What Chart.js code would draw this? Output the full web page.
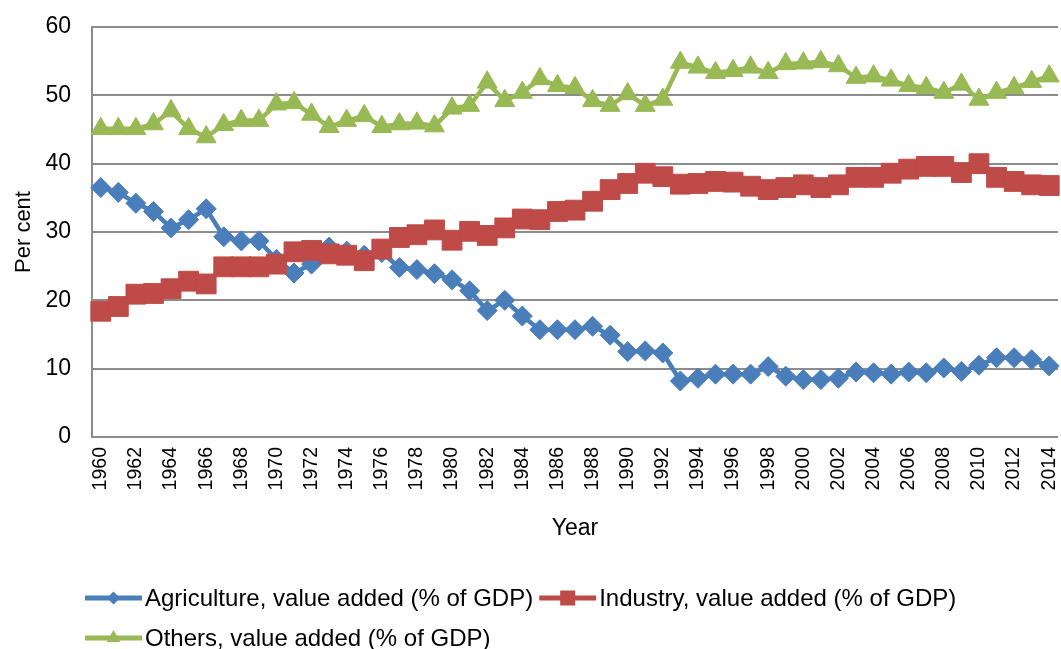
<!DOCTYPE html>
<html>
<head>
<meta charset="utf-8">
<script src="https://cdn.jsdelivr.net/npm/chart.js@4.4.1/dist/chart.umd.min.js"></script>
<style>
  html, body { margin: 0; padding: 0; background: #fff; }
  #wrap { width: 1061px; height: 649px; }
</style>
</head>
<body>
<div id="wrap"><canvas id="chart" width="1061" height="649"></canvas></div>
<script>
const years = [
  "1960", "1961", "1962", "1963", "1964", "1965", "1966", "1967", "1968", "1969",
  "1970", "1971", "1972", "1973", "1974", "1975", "1976", "1977", "1978", "1979",
  "1980", "1981", "1982", "1983", "1984", "1985", "1986", "1987", "1988", "1989",
  "1990", "1991", "1992", "1993", "1994", "1995", "1996", "1997", "1998", "1999",
  "2000", "2001", "2002", "2003", "2004", "2005", "2006", "2007", "2008", "2009",
  "2010", "2011", "2012", "2013", "2014"
];
const agriculture = [
  36.5, 35.8, 34.2, 33.0, 30.6, 31.8, 33.4, 29.3, 28.7, 28.7,
  26.0, 24.0, 25.3, 27.8, 27.2, 26.6, 27.0, 24.8, 24.5, 23.9,
  23.0, 21.4, 18.5, 20.0, 17.7, 15.7, 15.7, 15.7, 16.2, 14.9,
  12.5, 12.6, 12.3, 8.2, 8.6, 9.2, 9.2, 9.2, 10.3, 8.9,
  8.4, 8.4, 8.6, 9.5, 9.4, 9.2, 9.5, 9.4, 10.1, 9.6,
  10.5, 11.6, 11.6, 11.3, 10.4
];
const industry = [
  18.4, 19.1, 20.9, 21.0, 21.7, 22.8, 22.4, 24.9, 24.9, 24.9,
  25.3, 27.1, 27.3, 26.8, 26.6, 25.8, 27.5, 29.2, 29.6, 30.3,
  28.8, 30.1, 29.5, 30.6, 31.9, 31.8, 33.0, 33.2, 34.5, 36.2,
  37.1, 38.6, 38.1, 37.0, 37.1, 37.4, 37.3, 36.7, 36.2, 36.5,
  36.9, 36.5, 36.9, 38.0, 38.0, 38.6, 39.2, 39.6, 39.6, 38.7,
  40.0, 38.0, 37.4, 36.9, 36.8
];
const others = [
  45.1, 45.1, 45.1, 45.8, 47.7, 45.1, 43.9, 45.7, 46.3, 46.3,
  48.7, 48.9, 47.2, 45.4, 46.3, 47.0, 45.4, 45.8, 45.9, 45.5,
  48.1, 48.5, 51.9, 49.2, 50.4, 52.4, 51.4, 51.1, 49.2, 48.5,
  50.2, 48.5, 49.4, 54.8, 54.1, 53.3, 53.6, 54.1, 53.3, 54.6,
  54.7, 54.9, 54.3, 52.6, 52.8, 52.2, 51.4, 51.1, 50.4, 51.6,
  49.4, 50.4, 51.1, 52.0, 52.8
];
const seriesLabels = [
  "Agriculture, value added (% of GDP)",
  "Industry, value added (% of GDP)",
  "Others, value added (% of GDP)"
];
const seriesColors = ["#4a7ebb", "#be4b48", "#98b954"];
const fontFamily = "'Liberation Sans', Arial, sans-serif";

Chart.defaults.font.family = fontFamily;
Chart.defaults.font.size = 23;
Chart.defaults.color = "#000";

function drawMarker(ctx, style, x, y, r, color) {
  ctx.fillStyle = color;
  ctx.beginPath();
  if (style === "rectRot") {
    ctx.moveTo(x, y - r);
    ctx.lineTo(x + r, y);
    ctx.lineTo(x, y + r);
    ctx.lineTo(x - r, y);
  } else if (style === "rect") {
    ctx.rect(x - r, y - r, 2 * r, 2 * r);
  } else {
    ctx.moveTo(x, y - r);
    ctx.lineTo(x + r * 0.866, y + r / 2);
    ctx.lineTo(x - r * 0.866, y + r / 2);
  }
  ctx.closePath();
  ctx.fill();
}

// Excel-style legend: line with marker, wrapped on two rows
const legendRows = [[0, 1], [2]];
const bottomLegend = {
  id: "bottomLegend",
  afterDraw(chart) {
    const ctx = chart.ctx;
    const sizes = { rectRot: 6.5, rect: 7.5, triangle: 8 };
    ctx.save();
    ctx.font = "24px " + fontFamily;
    ctx.textBaseline = "middle";
    legendRows.forEach((row, r) => {
      let x = 85;
      const y = 598 + r * 40;
      row.forEach((i) => {
        const ds = chart.data.datasets[i];
        ctx.strokeStyle = ds.borderColor;
        ctx.lineWidth = 5;
        ctx.beginPath();
        ctx.moveTo(x, y);
        ctx.lineTo(x + 57, y);
        ctx.stroke();
        drawMarker(ctx, ds.pointStyle, x + 28.5, y, sizes[ds.pointStyle], ds.borderColor);
        ctx.fillStyle = "#000";
        ctx.fillText(ds.label, x + 60, y + 1);
        x += 60 + ctx.measureText(ds.label).width + 6;
      });
    });
    ctx.restore();
  }
};

function series(i, data, pointStyle, radius, order) {
  return {
    label: seriesLabels[i],
    data,
    borderColor: seriesColors[i],
    backgroundColor: seriesColors[i],
    pointBorderColor: seriesColors[i],
    pointStyle,
    pointRadius: radius,
    pointBorderWidth: 1,
    borderWidth: 4.5,
    tension: 0,
    order
  };
}

new Chart(document.getElementById("chart"), {
  type: "line",
  data: {
    labels: years,
    datasets: [
      series(0, agriculture, "rectRot", 10, 2),
      series(1, industry, "rect", 14, 1),
      series(2, others, "triangle", 11.5, 0)
    ]
  },
  options: {
    responsive: false,
    animation: false,
    layout: { autoPadding: false, padding: { top: 27, right: 3, bottom: 107, left: 0 } },
    plugins: { legend: { display: false }, tooltip: { enabled: false } },
    scales: {
      x: {
        offset: true,
        grid: { display: false, drawTicks: false },
        border: { display: false },
        ticks: {
          autoSkip: false,
          maxRotation: 90,
          minRotation: 90,
          padding: 10,
          font: { size: 19.5 },
          callback: (v, i) => (i % 2 === 0 ? years[i] : "")
        },
        title: { display: true, text: "Year", padding: { top: 0, bottom: 0 } },
        afterFit(scale) {
          scale.height = 105;
          scale.paddingLeft = 0;
          scale.paddingRight = 0;
        }
      },
      y: {
        min: 0,
        max: 60,
        ticks: { stepSize: 10, padding: 21 },
        grid: { color: "#8c8c8c", lineWidth: 2, drawTicks: false },
        border: { display: true, color: "#8c8c8c", width: 2 },
        title: { display: true, text: "Per cent", font: { size: 22 }, padding: { top: 11, bottom: 0 } },
        afterFit(scale) {
          scale.width = 92;
          scale.paddingTop = 0;
          scale.paddingBottom = 0;
        }
      }
    }
  },
  plugins: [bottomLegend]
});
</script>
</body>
</html>
